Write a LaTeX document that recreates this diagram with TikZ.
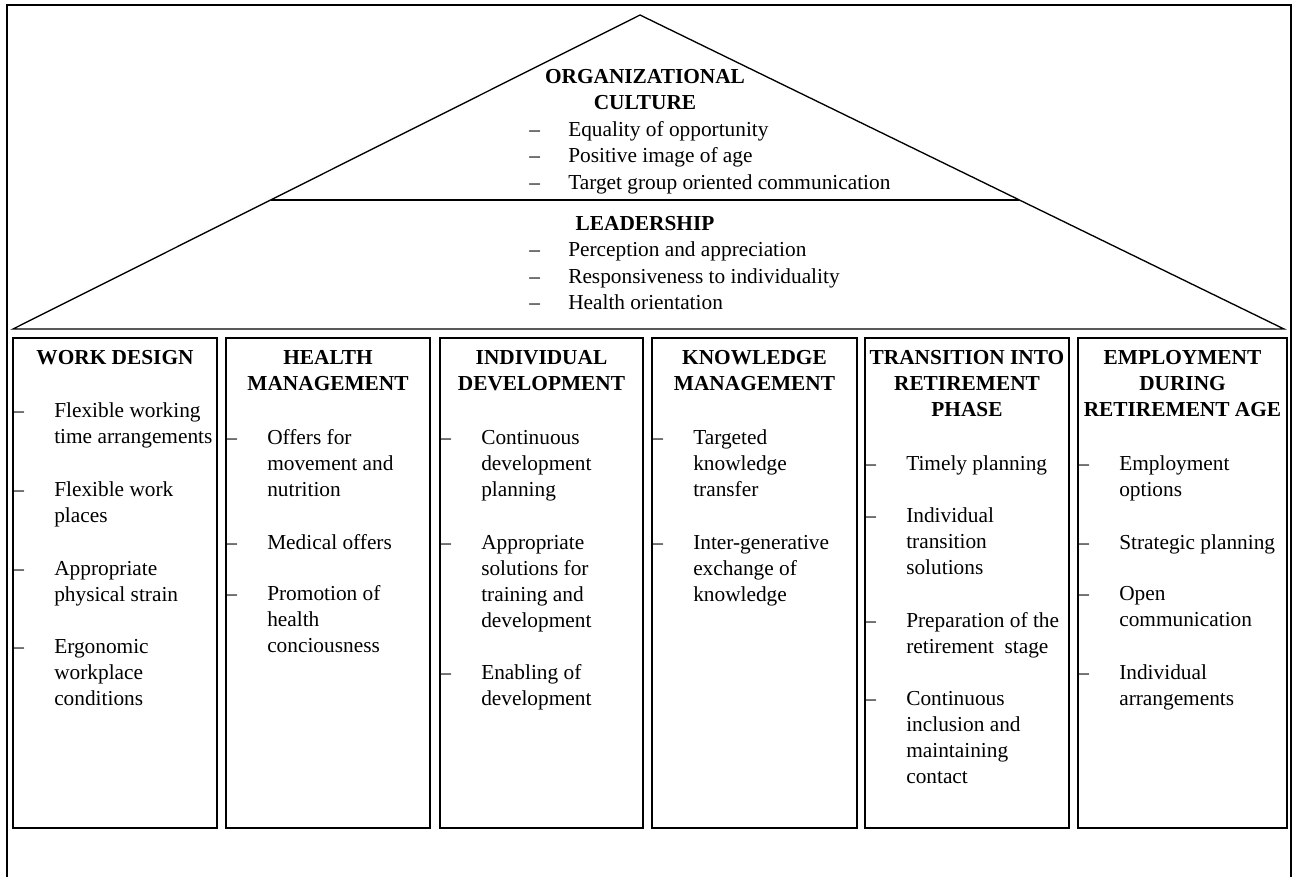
\documentclass[tikz,border=0pt]{standalone}
\usepackage{fontspec}
\setmainfont{Liberation Serif}
\usetikzlibrary{calc}
\newcommand\mlines[1]{\vtop{\baselineskip=19.5pt\lineskiplimit=-20pt\halign{##\hfil\cr#1\crcr}}}
\newcommand\clines[1]{\vtop{\baselineskip=19.5pt\lineskiplimit=-20pt\halign{\hfil##\hfil\cr#1\crcr}}}
\tikzset{
  outerframe/.style={line width=1.1pt},
  roof/.style={line width=1pt},
  pillar/.style={line width=1.2pt},
  txt/.style={inner sep=0pt, anchor=base west, font=\fontsize{16}{19.5}\selectfont},
  bul/.style={inner sep=0pt, anchor=base west, font=\fontsize{16}{19.5}\selectfont},
  head/.style={inner sep=0pt, anchor=base, font=\fontsize{16}{19.5}\selectfont\bfseries},
}
\begin{document}
\begin{tikzpicture}[x=0.75pt, y=-0.75pt]
\useasboundingbox (0,0) rectangle (1298,877);
\clip (0,0) rectangle (1298,877);
\fill[white] (0,0) rectangle (1298,877);
% outer frame (bottom edge outside the picture)
\draw[outerframe] (7,900) -- (7,5) -- (1291,5) -- (1291,900);
% roof
\coordinate (apex) at (640,15);
\coordinate (bl) at (13,329);
\coordinate (br) at (1284,329);
\draw[roof] (bl) -- (apex) -- (br) -- cycle;
\coordinate (dl) at ($(bl)!0.4108!(apex)$);
\coordinate (dr) at ($(br)!0.4108!(apex)$);
\draw[roof] (dl) -- (dr);
% organizational culture
\node[head] (oc) at (645,84) {\clines{ORGANIZATIONAL\cr CULTURE}};
\node[bul] (ocd1) at (529,137) {–};
\node[txt] (oc1) at (568,137) {Equality of opportunity};
\node[bul] (ocd2) at (529,163) {–};
\node[txt] (oc2) at (568,163) {Positive image of age};
\node[bul] (ocd3) at (529,190) {–};
\node[txt] (oc3) at (568,190) {Target group oriented communication};
% leadership
\node[head] (ld) at (645,231) {LEADERSHIP};
\node[bul] (ldd1) at (529,257) {–};
\node[txt] (ld1) at (568,257) {Perception and appreciation};
\node[bul] (ldd2) at (529,283) {–};
\node[txt] (ld2) at (568,283) {Responsiveness to individuality};
\node[bul] (ldd3) at (529,309) {–};
\node[txt] (ld3) at (568,309) {Health orientation};
% pillars
\draw[pillar] (13,338) rectangle (217,828);
\draw[pillar] (226,338) rectangle (430,828);
\draw[pillar] (440,338) rectangle (643,828);
\draw[pillar] (652,338) rectangle (857,828);
\draw[pillar] (865,338) rectangle (1069,828);
\draw[pillar] (1078,338) rectangle (1287,828);
% pillar 1
\node[head] (h1) at (115,364) {\clines{WORK DESIGN}};
\node[bul] (d11) at (13,417) {–};
\node[txt] (t11) at (54,417) {\mlines{Flexible working\cr time arrangements}};
\node[bul] (d12) at (13,496) {–};
\node[txt] (t12) at (54,496) {\mlines{Flexible work\cr places}};
\node[bul] (d13) at (13,575) {–};
\node[txt] (t13) at (54,575) {\mlines{Appropriate\cr physical strain}};
\node[bul] (d14) at (13,653) {–};
\node[txt] (t14) at (54,653) {\mlines{Ergonomic\cr workplace\cr conditions}};
% pillar 2
\node[head] (h2) at (328,364) {\clines{HEALTH\cr MANAGEMENT}};
\node[bul] (d21) at (226,444) {–};
\node[txt] (t21) at (267,444) {\mlines{Offers for\cr movement and\cr nutrition}};
\node[bul] (d22) at (226,549) {–};
\node[txt] (t22) at (267,549) {Medical offers};
\node[bul] (d23) at (226,600) {–};
\node[txt] (t23) at (267,600) {\mlines{Promotion of\cr health\cr conciousness}};
% pillar 3
\node[head] (h3) at (541.5,364) {\clines{INDIVIDUAL\cr DEVELOPMENT}};
\node[bul] (d31) at (440,444) {–};
\node[txt] (t31) at (481,444) {\mlines{Continuous\cr development\cr planning}};
\node[bul] (d32) at (440,549) {–};
\node[txt] (t32) at (481,549) {\mlines{Appropriate\cr solutions for\cr training and\cr development}};
\node[bul] (d33) at (440,679) {–};
\node[txt] (t33) at (481,679) {\mlines{Enabling of\cr development}};
% pillar 4
\node[head] (h4) at (754.5,364) {\clines{KNOWLEDGE\cr MANAGEMENT}};
\node[bul] (d41) at (652,444) {–};
\node[txt] (t41) at (693,444) {\mlines{Targeted\cr knowledge\cr transfer}};
\node[bul] (d42) at (652,549) {–};
\node[txt] (t42) at (693,549) {\mlines{Inter-generative\cr exchange of\cr knowledge}};
% pillar 5
\node[head] (h5) at (967,364) {\clines{TRANSITION INTO\cr RETIREMENT\cr PHASE}};
\node[bul] (d51) at (865,470) {–};
\node[txt] (t51) at (906,470) {Timely planning};
\node[bul] (d52) at (865,522) {–};
\node[txt] (t52) at (906,522) {\mlines{Individual\cr transition\cr solutions}};
\node[bul] (d53) at (865,627) {–};
\node[txt] (t53) at (906,627) {\mlines{Preparation of the\cr retirement\ \ stage}};
\node[bul] (d54) at (865,705) {–};
\node[txt] (t54) at (906,705) {\mlines{Continuous\cr inclusion and\cr maintaining\cr contact}};
% pillar 6
\node[head] (h6) at (1182.5,364) {\clines{EMPLOYMENT\cr DURING\cr RETIREMENT AGE}};
\node[bul] (d61) at (1078,470) {–};
\node[txt] (t61) at (1119,470) {\mlines{Employment\cr options}};
\node[bul] (d62) at (1078,549) {–};
\node[txt] (t62) at (1119,549) {Strategic planning};
\node[bul] (d63) at (1078,600) {–};
\node[txt] (t63) at (1119,600) {\mlines{Open\cr communication}};
\node[bul] (d64) at (1078,679) {–};
\node[txt] (t64) at (1119,679) {\mlines{Individual\cr arrangements}};
\end{tikzpicture}
\end{document}
